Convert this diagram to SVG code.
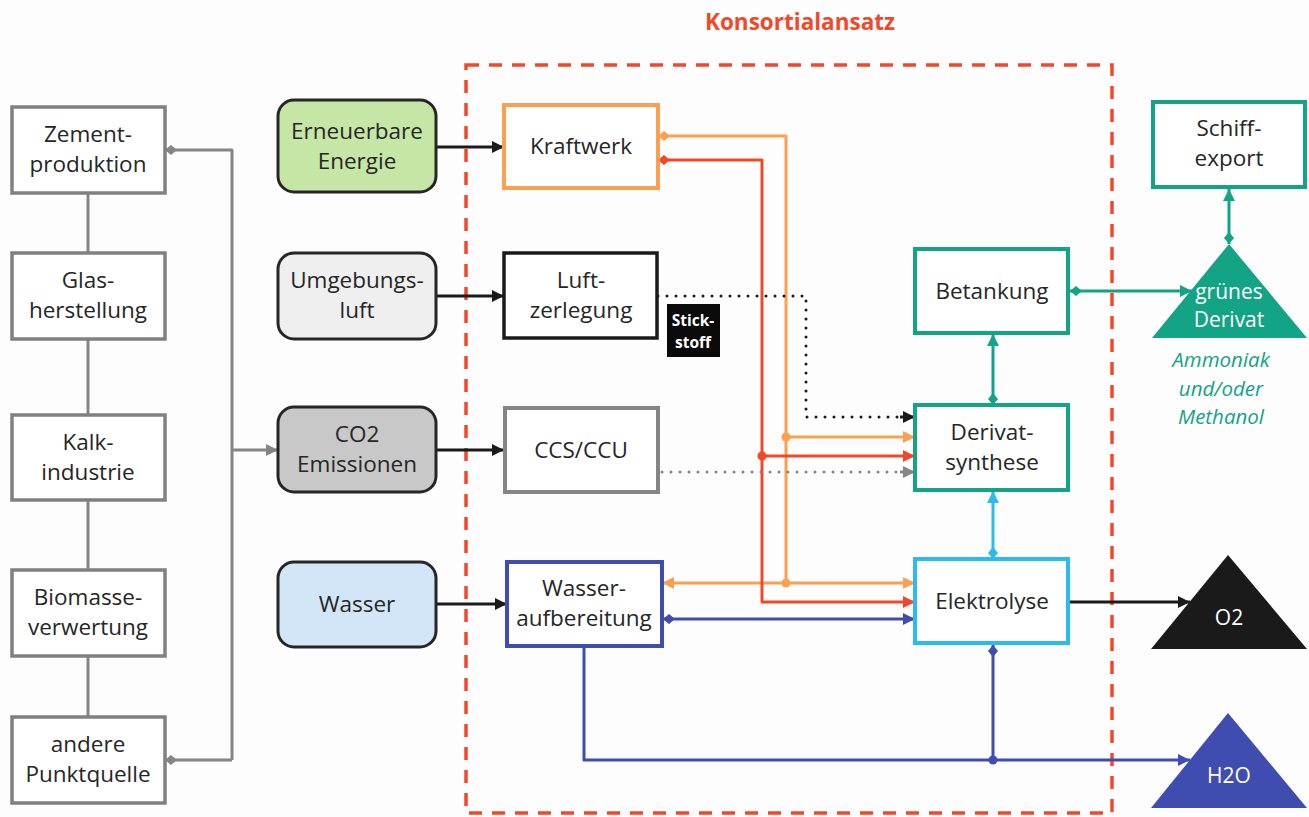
<svg xmlns="http://www.w3.org/2000/svg" width="1309" height="817" viewBox="0 0 1309 817">
<style>
text{font-family:"Open Sans","Liberation Sans",sans-serif;font-size:22.5px;fill:#262626;text-anchor:middle}
.src{fill:#fff;stroke:#808080;stroke-width:3.5}
.rr{stroke:#262626;stroke-width:3}
.c{fill:none;stroke-width:3;stroke-linejoin:round}
.wt{fill:#fff}
.it{fill:#13a385;font-style:italic;font-size:20.5px}
</style>
<defs>
<marker id="aK" markerUnits="userSpaceOnUse" markerWidth="14" markerHeight="14" refX="13" refY="7" orient="auto"><path d="M1,1 L13,7 L1,13 z" fill="#1a1a1a"/></marker>
<marker id="aG" markerUnits="userSpaceOnUse" markerWidth="14" markerHeight="14" refX="13" refY="7" orient="auto"><path d="M1,1 L13,7 L1,13 z" fill="#858585"/></marker>
<marker id="aO" markerUnits="userSpaceOnUse" markerWidth="14" markerHeight="14" refX="13" refY="7" orient="auto"><path d="M1,1 L13,7 L1,13 z" fill="#fba050"/></marker>
<marker id="aR" markerUnits="userSpaceOnUse" markerWidth="14" markerHeight="14" refX="13" refY="7" orient="auto"><path d="M1,1 L13,7 L1,13 z" fill="#f2482a"/></marker>
<marker id="aT" markerUnits="userSpaceOnUse" markerWidth="14" markerHeight="14" refX="13" refY="7" orient="auto"><path d="M1,1 L13,7 L1,13 z" fill="#13a385"/></marker>
<marker id="aL" markerUnits="userSpaceOnUse" markerWidth="14" markerHeight="14" refX="13" refY="7" orient="auto"><path d="M1,1 L13,7 L1,13 z" fill="#2bbde8"/></marker>
<marker id="aB" markerUnits="userSpaceOnUse" markerWidth="14" markerHeight="14" refX="13" refY="7" orient="auto"><path d="M1,1 L13,7 L1,13 z" fill="#3f4db0"/></marker>
<marker id="dG" markerUnits="userSpaceOnUse" markerWidth="14" markerHeight="12" refX="0" refY="6" orient="auto"><path d="M0,6 L6,1 L12,6 L6,11 z" fill="#858585"/></marker>
<marker id="dO" markerUnits="userSpaceOnUse" markerWidth="14" markerHeight="12" refX="0" refY="6" orient="auto"><path d="M0,6 L6,1 L12,6 L6,11 z" fill="#fba050"/></marker>
<marker id="dR" markerUnits="userSpaceOnUse" markerWidth="14" markerHeight="12" refX="0" refY="6" orient="auto"><path d="M0,6 L6,1 L12,6 L6,11 z" fill="#f2482a"/></marker>
<marker id="dT" markerUnits="userSpaceOnUse" markerWidth="14" markerHeight="12" refX="0" refY="6" orient="auto"><path d="M0,6 L6,1 L12,6 L6,11 z" fill="#13a385"/></marker>
<marker id="dL" markerUnits="userSpaceOnUse" markerWidth="14" markerHeight="12" refX="0" refY="6" orient="auto"><path d="M0,6 L6,1 L12,6 L6,11 z" fill="#2bbde8"/></marker>
<marker id="dB" markerUnits="userSpaceOnUse" markerWidth="14" markerHeight="12" refX="0" refY="6" orient="auto"><path d="M0,6 L6,1 L12,6 L6,11 z" fill="#3f4db0"/></marker>
</defs>
<rect width="1309" height="817" fill="#fdfdfd"/>

<g id="konsortialansatz">
<rect x="466" y="65" width="646" height="748" fill="none" stroke="#f2482a" stroke-width="3.5" stroke-dasharray="13 10"/>
<text x="800" y="30" style="font-weight:bold;fill:#f2482a;font-size:22.5px">Konsortialansatz</text>
</g>

<g id="connectors">
<path class="c" stroke="#858585" d="M88,193 V253 M88,339 V415 M88,500 V570 M88,656 V717"/>
<path class="c" stroke="#858585" d="M165,150 H232 V760" marker-start="url(#dG)"/>
<path class="c" stroke="#858585" d="M165,760 H232" marker-start="url(#dG)"/>
<path class="c" stroke="#858585" d="M232,450 H278" marker-end="url(#aG)"/>
<path class="c" stroke="#1a1a1a" d="M436,147 H504" marker-end="url(#aK)"/>
<path class="c" stroke="#1a1a1a" d="M436,296 H504" marker-end="url(#aK)"/>
<path class="c" stroke="#1a1a1a" d="M436,450 H504" marker-end="url(#aK)"/>
<path class="c" stroke="#1a1a1a" d="M436,604 H507" marker-end="url(#aK)"/>
<path class="c" stroke="#fba050" d="M658,136 H786 V583" marker-start="url(#dO)"/>
<path class="c" stroke="#fba050" d="M786,437 H915" marker-end="url(#aO)"/>
<path class="c" stroke="#fba050" d="M786,583 H915" marker-end="url(#aO)"/>
<path class="c" stroke="#fba050" d="M786,583 H662" marker-end="url(#aO)"/>
<circle cx="786" cy="437" r="4.5" fill="#fba050"/>
<circle cx="786" cy="583" r="4.5" fill="#fba050"/>
<path class="c" stroke="#f2482a" d="M658,160 H762 V602 H915" marker-start="url(#dR)" marker-end="url(#aR)"/>
<path class="c" stroke="#f2482a" d="M762,456 H915" marker-end="url(#aR)"/>
<circle cx="762" cy="456" r="4.5" fill="#f2482a"/>
<path class="c" stroke="#1a1a1a" stroke-width="3.5" stroke-linecap="round" stroke-dasharray="0 9" d="M658,296 H806 V417 H900"/>
<path class="c" stroke="#1a1a1a" d="M900,417 H915" marker-end="url(#aK)"/>
<path class="c" stroke="#858585" stroke-width="3.5" stroke-linecap="round" stroke-dasharray="0 9" d="M662,472 H900"/>
<path class="c" stroke="#858585" d="M900,472 H915" marker-end="url(#aG)"/>
<path class="c" stroke="#3f4db0" d="M663,619 H915" marker-start="url(#dB)" marker-end="url(#aB)"/>
<path class="c" stroke="#3f4db0" d="M584,646 V760 H1190" marker-end="url(#aB)"/>
<path class="c" stroke="#3f4db0" d="M993,645 V760" marker-start="url(#dB)"/>
<circle cx="993" cy="760" r="4.5" fill="#3f4db0"/>
<path class="c" stroke="#2bbde8" d="M993,559 V491" marker-start="url(#dL)" marker-end="url(#aL)"/>
<path class="c" stroke="#13a385" d="M993,405 V334" marker-start="url(#dT)" marker-end="url(#aT)"/>
<path class="c" stroke="#13a385" d="M1070,291 H1192" marker-start="url(#dT)" marker-end="url(#aT)"/>
<path class="c" stroke="#13a385" d="M1229,244 V189" marker-start="url(#dT)" marker-end="url(#aT)"/>
<path class="c" stroke="#1a1a1a" d="M1068,602 H1190" marker-end="url(#aK)"/>
</g>

<g id="zementproduktion"><rect class="src" x="12" y="107" width="153" height="86"/><text x="88" y="142">Zement-</text><text x="88" y="172">produktion</text></g>
<g id="glasherstellung"><rect class="src" x="12" y="253" width="153" height="86"/><text x="88" y="288">Glas-</text><text x="88" y="318">herstellung</text></g>
<g id="kalkindustrie"><rect class="src" x="12" y="415" width="153" height="85"/><text x="88" y="450">Kalk-</text><text x="88" y="480">industrie</text></g>
<g id="biomasseverwertung"><rect class="src" x="12" y="570" width="153" height="86"/><text x="88" y="605">Biomasse-</text><text x="88" y="635">verwertung</text></g>
<g id="anderepunktquelle"><rect class="src" x="12" y="717" width="153" height="86"/><text x="88" y="752">andere</text><text x="88" y="782">Punktquelle</text></g>

<g id="erneuerbareenergie"><rect class="rr" x="278" y="100" width="158" height="92" rx="16" fill="#c6e6a5"/><text x="357" y="139">Erneuerbare</text><text x="357" y="169">Energie</text></g>
<g id="umgebungsluft"><rect class="rr" x="278" y="253" width="158" height="86" rx="16" fill="#efefef"/><text x="357" y="288">Umgebungs-</text><text x="357" y="318">luft</text></g>
<g id="co2emissionen"><rect class="rr" x="278" y="407" width="158" height="85" rx="16" fill="#c8c8c8"/><text x="357" y="442">CO2</text><text x="357" y="472">Emissionen</text></g>
<g id="wasser"><rect class="rr" x="278" y="562" width="158" height="85" rx="16" fill="#d3e6f7"/><text x="357" y="612">Wasser</text></g>

<g id="kraftwerk"><rect x="504" y="105" width="154" height="83" fill="#fff" stroke="#fba050" stroke-width="4"/><text x="581" y="154">Kraftwerk</text></g>
<g id="luftzerlegung"><rect x="504" y="253" width="153" height="85" fill="#fff" stroke="#1a1a1a" stroke-width="3.5"/><text x="581" y="288">Luft-</text><text x="581" y="318">zerlegung</text></g>
<g id="stickstoff"><rect x="667" y="304" width="53" height="53" fill="#0a0a0a"/><text x="693" y="326" class="wt" style="font-size:15.5px;font-weight:bold">Stick-</text><text x="693" y="348" class="wt" style="font-size:15.5px;font-weight:bold">stoff</text></g>
<g id="ccsccu"><rect x="505" y="408" width="153" height="84" fill="#fff" stroke="#858585" stroke-width="4"/><text x="581" y="458">CCS/CCU</text></g>
<g id="wasseraufbereitung"><rect x="507" y="562" width="155" height="84" fill="#fff" stroke="#3f4db0" stroke-width="4"/><text x="584" y="596">Wasser-</text><text x="584" y="626">aufbereitung</text></g>

<g id="betankung"><rect x="915" y="249" width="153" height="84" fill="#fff" stroke="#13a385" stroke-width="4"/><text x="992" y="299">Betankung</text></g>
<g id="derivatsynthese"><rect x="915" y="405" width="153" height="85" fill="#fff" stroke="#13a385" stroke-width="4"/><text x="992" y="440">Derivat-</text><text x="992" y="470">synthese</text></g>
<g id="elektrolyse"><rect x="915" y="559" width="153" height="84" fill="#fff" stroke="#2bbde8" stroke-width="4"/><text x="992" y="609">Elektrolyse</text></g>

<g id="schiffexport"><rect x="1153" y="102" width="152" height="85" fill="#fff" stroke="#13a385" stroke-width="4"/><text x="1229" y="136">Schiff-</text><text x="1229" y="166">export</text></g>
<g id="gruenesderivat"><path d="M1229,244 L1307,338 L1152,338 z" fill="#13a385"/><text x="1229" y="299" class="wt" style="font-size:21px">grünes</text><text x="1229" y="327" class="wt" style="font-size:21px">Derivat</text>
<text x="1221" y="367" class="it">Ammoniak</text><text x="1221" y="396" class="it">und/oder</text><text x="1221" y="424" class="it">Methanol</text></g>
<g id="o2"><path d="M1228,555 L1307,649 L1151,649 z" fill="#1a1a1a"/><text x="1229" y="625" class="wt" style="font-size:21px">O2</text></g>
<g id="h2o"><path d="M1228,713 L1307,808 L1151,808 z" fill="#3f4db0"/><text x="1229" y="783" class="wt" style="font-size:21px">H2O</text></g>
</svg>
